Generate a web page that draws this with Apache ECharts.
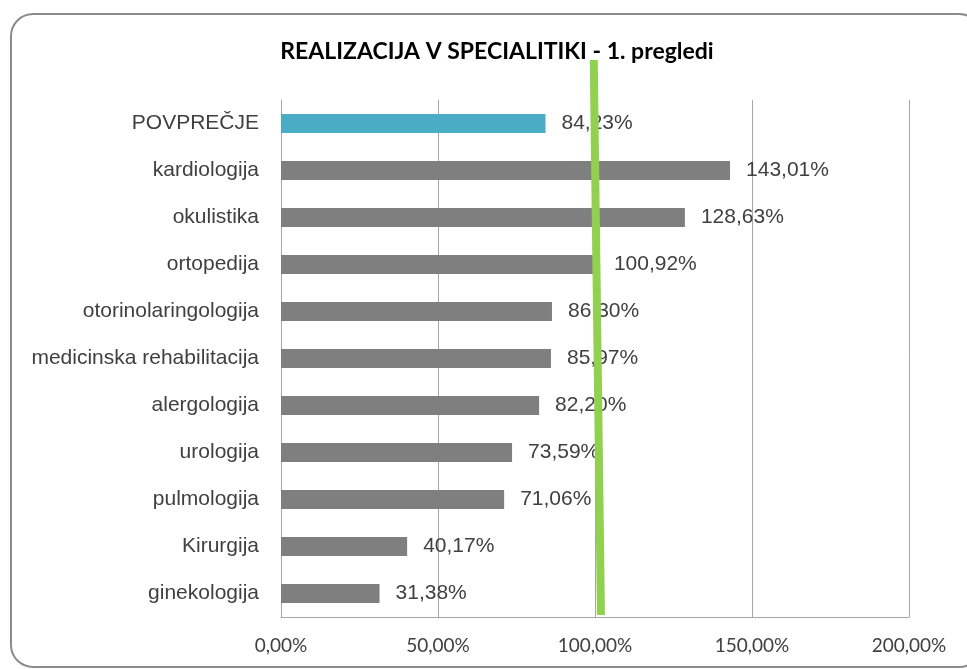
<!DOCTYPE html>
<html>
<head>
<meta charset="utf-8">
<script src="https://cdn.jsdelivr.net/npm/echarts@6/dist/echarts.min.js"></script>
<style>
  html, body { margin: 0; padding: 0; background: #fff; }
  #main { width: 967px; height: 669px; }
</style>
</head>
<body>
<div id="main"></div>
<script>
const categories = [
  'POVPREČJE', 'kardiologija', 'okulistika', 'ortopedija', 'otorinolaringologija',
  'medicinska rehabilitacija', 'alergologija', 'urologija', 'pulmologija', 'Kirurgija', 'ginekologija'
]
const values = [84.23, 143.01, 128.63, 100.92, 86.30, 85.97, 82.20, 73.59, 71.06, 40.17, 31.38]
const xTicks = [0, 50, 100, 150, 200]
const targetLine = [99.6, 101.9] // green line: x at top, x at bottom

const fmt = v => v.toFixed(2).replace('.', ',') + '%'

const chart = echarts.init(document.getElementById('main'))

chart.setOption({
  animation: false,
  title: {
    text: 'REALIZACIJA V SPECIALITIKI - 1. pregledi',
    left: 492,
    textAlign: 'center',
    top: 35,
    textStyle: { fontFamily: 'Lato', fontWeight: 'bold', fontSize: 23, color: '#000' }
  },
  grid: { left: 281, right: 58, top: 100, bottom: 52, containLabel: false },
  xAxis: {
    type: 'value',
    min: xTicks[0],
    max: xTicks[xTicks.length - 1],
    interval: 50,
    axisLine: { show: true, lineStyle: { color: '#a6a6a6', width: 1 } },
    axisTick: { show: false },
    splitLine: { show: true, lineStyle: { color: '#a6a6a6', width: 1 } },
    axisLabel: {
      margin: 19,
      fontFamily: 'Lato',
      fontSize: 19,
      color: '#404040',
      formatter: v => fmt(v)
    }
  },
  yAxis: {
    type: 'category',
    inverse: true,
    data: categories,
    axisLine: { show: true, lineStyle: { color: '#a6a6a6', width: 1 } },
    axisTick: { show: false },
    axisLabel: {
      margin: 22,
      fontFamily: 'Liberation Sans',
      fontSize: 21,
      color: '#404040'
    }
  },
  series: [{
    type: 'bar',
    barWidth: 19,
    data: values.map((v, i) => ({
      value: v,
      itemStyle: { color: i === 0 ? '#4bacc6' : '#7f7f7f' }
    })),
    label: {
      show: true,
      position: 'right',
      distance: 16,
      fontFamily: 'Liberation Sans',
      fontSize: 21,
      color: '#404040',
      formatter: p => fmt(p.value)
    }
  }]
})

// overlay: rounded frame and the hand-drawn green line
const x0 = chart.convertToPixel({ xAxisIndex: 0 }, targetLine[0])
const x1 = chart.convertToPixel({ xAxisIndex: 0 }, targetLine[1])
chart.setOption({
  graphic: [
    {
      type: 'rect',
      shape: { x: 11, y: 14, width: 970, height: 653, r: 22 },
      style: { fill: null, stroke: '#8c8c8c', lineWidth: 2 },
      z: 100
    },
    {
      type: 'line',
      shape: { x1: x0, y1: 60, x2: x1, y2: 615 },
      style: { stroke: '#92d050', lineWidth: 8 },
      z: 100
    }
  ]
})
</script>
</body>
</html>
